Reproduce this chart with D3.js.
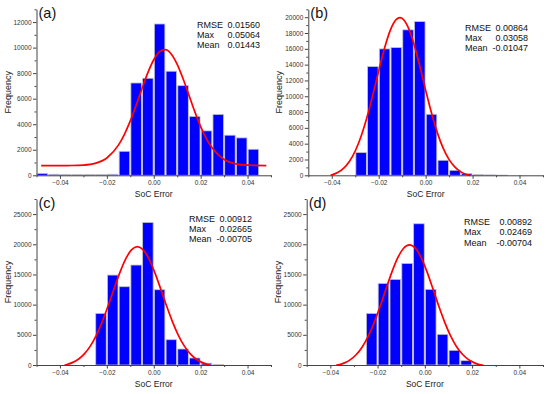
<!DOCTYPE html>
<html>
<head>
<meta charset="utf-8">
<script src="https://cdn.jsdelivr.net/npm/d3@7"></script>
<style>
  body { margin: 0; background: #fff; }
  svg { display: block; font-family: Arial, "Liberation Sans", sans-serif; }
</style>
</head>
<body>
<div id="chart"></div>
<script>
// histogram bins (left edges), bin width 0.005
const binWidth = 0.005;
const binsA = [-0.05, -0.045, -0.04, -0.035, -0.03, -0.025, -0.02, -0.015, -0.01, -0.005, 0, 0.005, 0.01, 0.015, 0.02, 0.025, 0.03, 0.035, 0.04];
const countsA = [150, 80, 70, 70, 70, 70, 80, 1880, 7230, 7600, 11850, 8150, 7020, 4610, 3480, 4770, 3140, 2930, 2040];
const binsB = [-0.03, -0.025, -0.02, -0.015, -0.01, -0.005, 0, 0.005, 0.01, 0.015, 0.02, 0.025, 0.03];
const countsB = [2870, 13750, 15990, 16160, 18400, 19450, 7720, 1900, 630, 210, 90, 50, 30];
const binsC = [-0.025, -0.02, -0.015, -0.01, -0.005, 0, 0.005, 0.01, 0.015, 0.02, 0.025];
const countsC = [8550, 14900, 12970, 16560, 23620, 12470, 4190, 2650, 1160, 300, 100];
const binsD = [-0.025, -0.02, -0.015, -0.01, -0.005, 0, 0.005, 0.01, 0.015, 0.02];
const countsD = [8550, 13520, 14180, 16830, 23400, 12530, 5080, 2430, 720, 80];

// red fit curves [x, frequency]
const fitA = [[-0.048, 760], [-0.04, 761], [-0.035, 768], [-0.03, 801], [-0.025, 935], [-0.02, 1357], [-0.015, 2380], [-0.0125, 3213], [-0.01, 4260], [-0.0075, 5490], [-0.005, 6800], [-0.0025, 8041], [0, 9050], [0.0025, 9687], [0.005, 9840], [0.0075, 9487], [0.01, 8690], [0.0125, 7560], [0.015, 6280], [0.0175, 4987], [0.02, 3815], [0.0225, 2851], [0.025, 2110], [0.03, 1236], [0.035, 894], [0.04, 790], [0.048, 762]];
const fitB = [[-0.0405, 0], [-0.0375, 354], [-0.035, 883], [-0.0325, 1754], [-0.03, 3073], [-0.0275, 4930], [-0.025, 7331], [-0.0225, 10180], [-0.02, 13223], [-0.0175, 16104], [-0.015, 18395], [-0.0125, 19724], [-0.011, 19950], [-0.01, 19849], [-0.0075, 18750], [-0.005, 16620], [-0.0025, 13830], [0, 10780], [0.0025, 7874], [0.005, 5366], [0.0075, 3400], [0.01, 1978], [0.0125, 1027], [0.015, 437], [0.0175, 98], [0.019, 0]];
const fitC = [[-0.038, 0], [-0.037, 90], [-0.0345, 434], [-0.032, 999], [-0.0295, 1881], [-0.027, 3169], [-0.0245, 4926], [-0.022, 7151], [-0.0195, 9760], [-0.017, 12559], [-0.0145, 15266], [-0.012, 17542], [-0.0095, 19063], [-0.007, 19600], [-0.0045, 19063], [-0.002, 17542], [0.0005, 15266], [0.003, 12559], [0.0055, 9760], [0.008, 7151], [0.0105, 4926], [0.013, 3169], [0.0155, 1881], [0.018, 999], [0.0205, 434], [0.023, 90], [0.024, 0]];
const fitD = [[-0.0375, 0], [-0.0365, 41], [-0.034, 354], [-0.0315, 888], [-0.029, 1734], [-0.0265, 2993], [-0.024, 4738], [-0.0215, 6980], [-0.019, 9644], [-0.0165, 12535], [-0.014, 15351], [-0.0115, 17735], [-0.009, 19334], [-0.0065, 19900], [-0.004, 19334], [-0.0015, 17735], [0.001, 15351], [0.0035, 12535], [0.006, 9644], [0.0085, 6980], [0.011, 4738], [0.0135, 2993], [0.016, 1734], [0.0185, 888], [0.021, 354], [0.0235, 41], [0.0245, 0]];

// axis ticks
const xTicks = [-0.04, -0.02, 0, 0.02, 0.04];
const xMinor = [-0.05, -0.03, -0.01, 0.01, 0.03, 0.05];
const yTicksA = [0, 2000, 4000, 6000, 8000, 10000, 12000];
const yTicksB = [0, 2000, 4000, 6000, 8000, 10000, 12000, 14000, 16000, 18000, 20000];
const yTicksC = [0, 5000, 10000, 15000, 20000, 25000];

// stats boxes
const statNames = ["RMSE", "Max", "Mean"];
const statsA = ["0.01560", "0.05064", "0.01443"];
const statsB = ["0.00864", "0.03058", "-0.01047"];
const statsC = ["0.00912", "0.02665", "-0.00705"];
const statsD = ["0.00892", "0.02469", "-0.00704"];

const W = 550, H = 394;
const svg = d3.select("#chart").append("svg").attr("width", W).attr("height", H);

const panels = [
  { tag: "(a)", bins: binsA, counts: countsA, fit: fitA, yMax: 13000, yTicks: yTicksA, yMinorStep: 1000, stats: statsA,
    left: 36.5, right: 271, top: 9.3, bottom: 175.3, statX: 197, valX: 260, statY: 27.5 },
  { tag: "(b)", bins: binsB, counts: countsB, fit: fitB, yMax: 21000, yTicks: yTicksB, yMinorStep: 1000, stats: statsB,
    left: 308.3, right: 543, top: 9.3, bottom: 175.3, statX: 465, valX: 528, statY: 30.5 },
  { tag: "(c)", bins: binsC, counts: countsC, fit: fitC, yMax: 27500, yTicks: yTicksC, yMinorStep: 2500, stats: statsC,
    left: 36.5, right: 271, top: 199, bottom: 365, statX: 189, valX: 252, statY: 221.5 },
  { tag: "(d)", bins: binsD, counts: countsD, fit: fitD, yMax: 27500, yTicks: yTicksC, yMinorStep: 2500, stats: statsD,
    left: 306.7, right: 543, top: 199, bottom: 365, statX: 464, valX: 532, statY: 225 }
];

panels.forEach(p => {
  const x = d3.scaleLinear().domain([-0.05, 0.05]).range([p.left, p.right]);
  const y = d3.scaleLinear().domain([0, p.yMax]).range([p.bottom, p.top]);
  const g = svg.append("g");

  // bars
  g.selectAll("rect.bar")
    .data(p.bins.map((b, i) => ({ x0: b, x1: b + binWidth, n: p.counts[i] })))
    .join("rect")
    .attr("class", "bar")
    .attr("x", d => x(d.x0) + 0.6)
    .attr("width", d => x(d.x1) - x(d.x0) - 1.2)
    .attr("y", d => y(d.n))
    .attr("height", d => y(0) - y(d.n))
    .attr("fill", "#0000ff")
    .attr("stroke", "#c4c4c4")
    .attr("stroke-width", 0.8);

  // fit curve
  const line = d3.line().x(d => x(d[0])).y(d => y(d[1])).curve(d3.curveMonotoneX);
  g.append("path")
    .attr("d", line(p.fit))
    .attr("fill", "none")
    .attr("stroke", "#ff0000")
    .attr("stroke-width", 1.7);

  // axes
  const xAxis = g.append("g").attr("transform", `translate(0,${p.bottom})`)
    .call(d3.axisBottom(x).tickValues(xTicks).tickFormat(d3.format(".2f")).tickSize(3.5).tickSizeOuter(0).tickPadding(2));
  g.append("g").attr("transform", `translate(0,${p.bottom})`)
    .call(d3.axisBottom(x).tickValues(xMinor).tickFormat("").tickSize(2).tickSizeOuter(0))
    .select(".domain").remove();

  const yMinor = d3.range(0, p.yMax + 1, p.yMinorStep).filter(v => !p.yTicks.includes(v));
  const yAxis = g.append("g").attr("transform", `translate(${p.left},0)`)
    .call(d3.axisLeft(y).tickValues(p.yTicks).tickFormat(d3.format("d")).tickSize(3.5).tickSizeOuter(0).tickPadding(1.5));
  g.append("g").attr("transform", `translate(${p.left},0)`)
    .call(d3.axisLeft(y).tickValues(yMinor).tickFormat("").tickSize(2).tickSizeOuter(0))
    .select(".domain").remove();

  [xAxis, yAxis].forEach(a => {
    a.selectAll("text").attr("font-size", 6.5).attr("fill", "#333").attr("font-family", "Arial, 'Liberation Sans', sans-serif");
    a.selectAll("line, path").attr("stroke", "#444");
  });
  g.selectAll("g.tick line").attr("stroke", "#444");

  // titles
  g.append("text")
    .attr("x", x(0)).attr("y", p.bottom + 21.5)
    .attr("text-anchor", "middle").attr("font-size", 8.5).attr("fill", "#222")
    .text("SoC Error");
  g.append("text")
    .attr("transform", `translate(${p.left - 26},${(p.top + p.bottom) / 2}) rotate(-90)`)
    .attr("text-anchor", "middle").attr("font-size", 9).attr("fill", "#222")
    .text("Frequency");
  g.append("text")
    .attr("x", p.left + 2).attr("y", p.top + 8.5)
    .attr("font-size", 14.5).attr("fill", "#111")
    .text(p.tag);

  // stats
  statNames.forEach((s, i) => {
    g.append("text").attr("x", p.statX).attr("y", p.statY + i * 10.4)
      .attr("font-size", 9).attr("fill", "#111").text(s);
    g.append("text").attr("x", p.valX).attr("y", p.statY + i * 10.4)
      .attr("text-anchor", "end").attr("font-size", 9).attr("fill", "#111").text(p.stats[i]);
  });
});
</script>
</body>
</html>
